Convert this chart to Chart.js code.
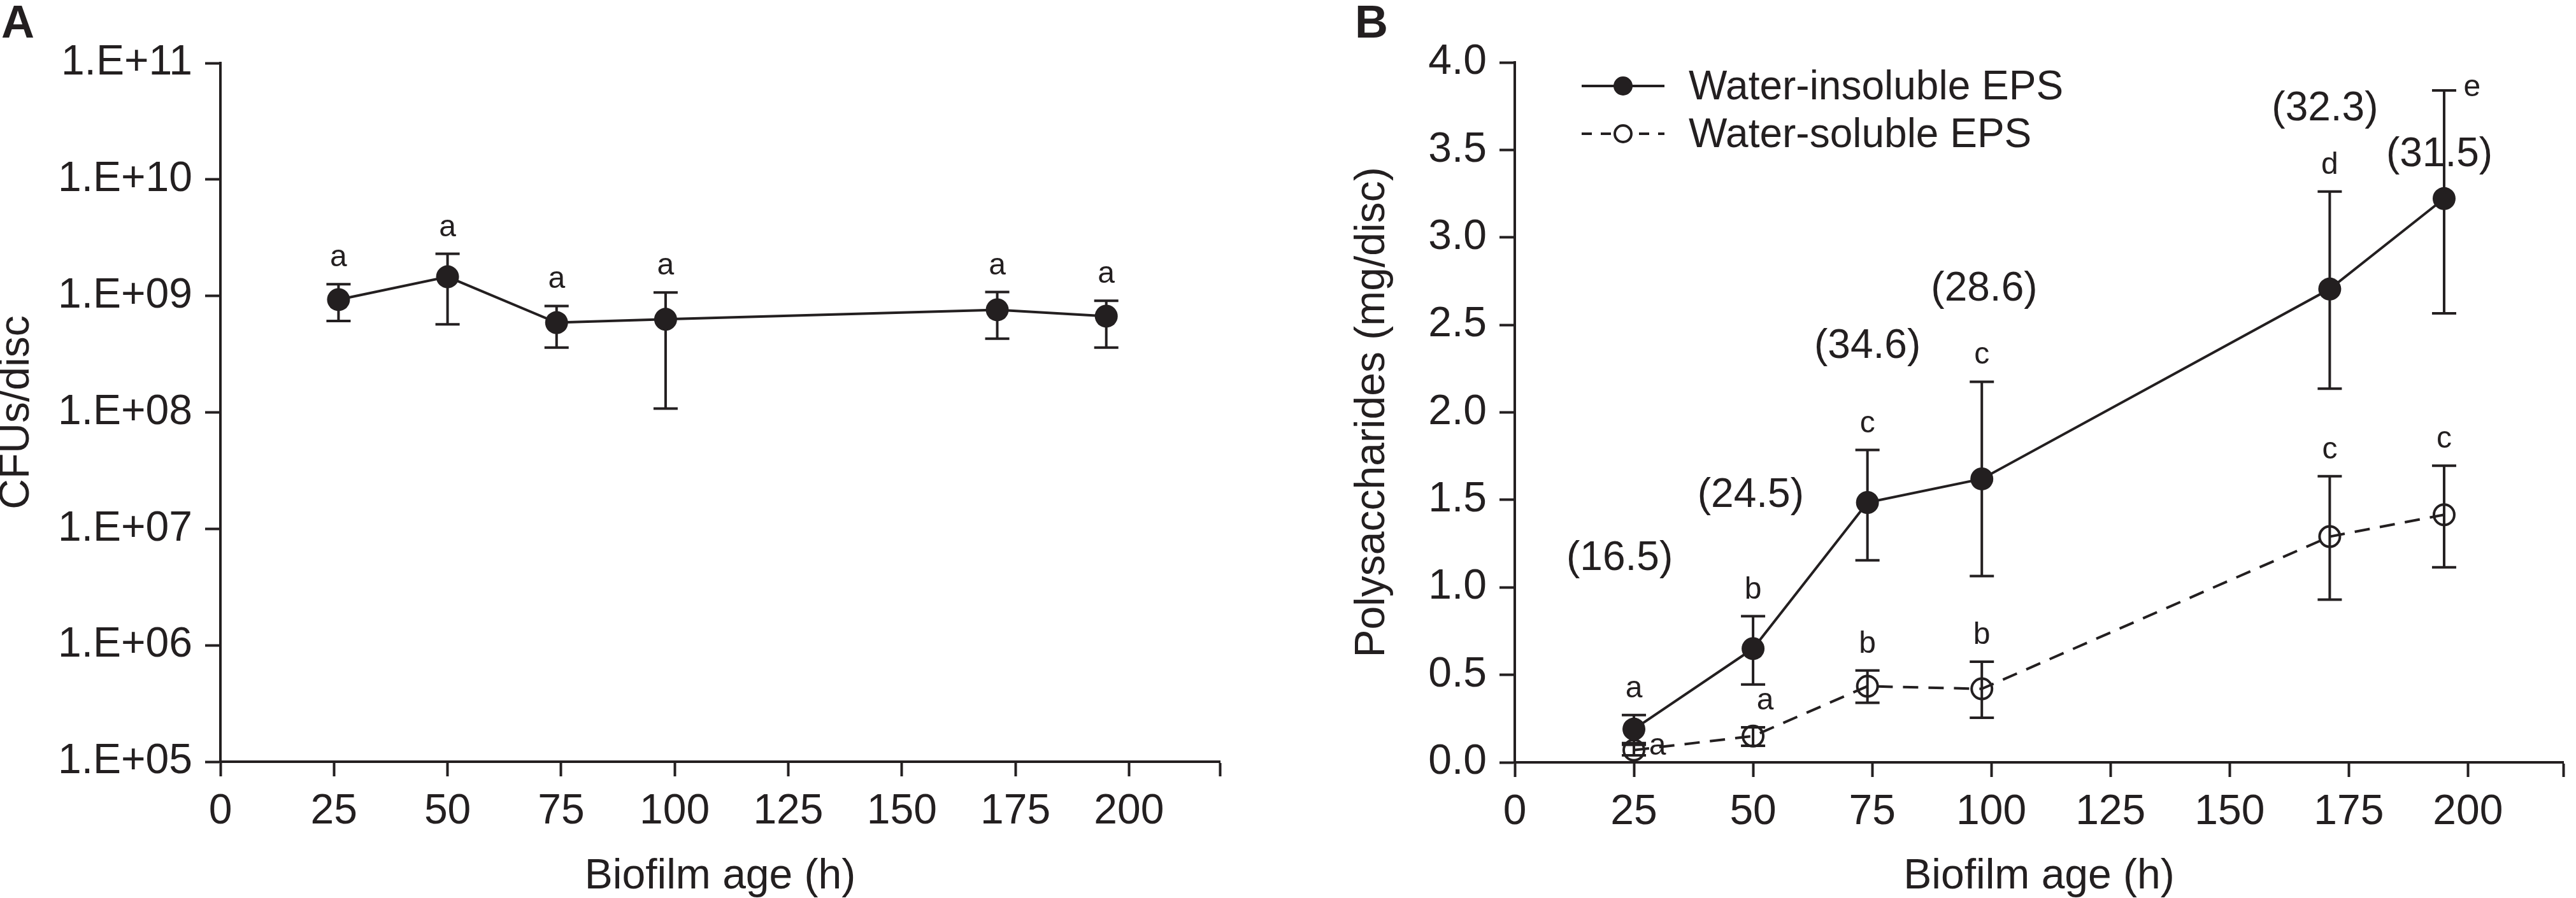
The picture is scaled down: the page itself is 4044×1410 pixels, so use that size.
<!DOCTYPE html>
<html>
<head>
<meta charset="utf-8">
<script src="https://cdn.jsdelivr.net/npm/chart.js@4.4.1/dist/chart.umd.min.js"></script>
<style>
  body { margin: 0; background: #fff; width: 4044px; height: 1410px; overflow: hidden; position: relative; }
  canvas { position: absolute; top: 0; }
  #graficoA { left: 0; }
  #graficoB { left: 2044px; }
</style>
</head>
<body>
<canvas id="graficoA" width="2000" height="1410"></canvas>
<canvas id="graficoB" width="2000" height="1410"></canvas>
<script>
// dados do painel A (CFUs por disco, escala log)
const horasA = [26, 50, 74, 98, 171, 195];
const ufc = [9.3e8, 1.46e9, 5.9e8, 6.3e8, 7.6e8, 6.7e8];
const ufcAlto = [1.26e9, 2.30e9, 8.2e8, 1.07e9, 1.08e9, 9.1e8];
const ufcBaixo = [6.1e8, 5.7e8, 3.6e8, 1.08e8, 4.3e8, 3.6e8];
const letrasA = ['a', 'a', 'a', 'a', 'a', 'a'];

// dados do painel B (polissacarideos)
const horasB = [25, 50, 74, 98, 171, 195];
const insoluvel = [0.19, 0.65, 1.485, 1.62, 2.705, 3.222];
const insoluvelAlto = [0.27, 0.835, 1.785, 2.175, 3.262, 3.84];
const insoluvelBaixo = [0.11, 0.445, 1.155, 1.065, 2.136, 2.566];
const soluvel = [0.07, 0.15, 0.435, 0.42, 1.29, 1.415];
const soluvelAlto = [0.10, 0.20, 0.525, 0.575, 1.635, 1.695];
const soluvelBaixo = [0.04, 0.095, 0.34, 0.255, 0.93, 1.115];
const letrasInsoluvel = ['a', 'b', 'c', 'c', 'd', 'e'];
const letrasSoluvel = ['a', 'a', 'b', 'b', 'c', 'c'];
const nomesSeries = ['Water-insoluble EPS', 'Water-soluble EPS'];

// percentuais entre parenteses e onde ficam (em unidades do grafico)
const rotulosPct = ['(16.5)', '(24.5)', '(34.6)', '(28.6)', '(32.3)', '(31.5)'];
const rotuloPctX = [22, 49.5, 74, 98.5, 170, 194];
const rotuloPctY = [1.165, 1.525, 2.377, 2.704, 3.734, 3.472];

// ticks
const ticksX = [0, 25, 50, 75, 100, 125, 150, 175, 200, 220];
const ticksLog = [1e5, 1e6, 1e7, 1e8, 1e9, 1e10, 1e11];
const ticksPoli = [0, 0.5, 1, 1.5, 2, 2.5, 3, 3.5, 4];

const tinta = '#231f20';
const fonte = '"Liberation Sans", Arial, Helvetica, sans-serif';

function pontos(xs, ys) {
  var lista = [];
  for (i = 0; i < xs.length; i++) {
    lista.push({ x: xs[i], y: ys[i] });
  }
  return lista;
}

// barras de erro desenhadas antes dos pontos
function pluginErros(series) {
  return {
    id: 'erros',
    beforeDatasetsDraw(chart) {
      const ctx = chart.ctx;
      const sx = chart.scales.x;
      const sy = chart.scales.y;
      ctx.save();
      ctx.strokeStyle = tinta;
      ctx.lineWidth = 4;
      series.forEach(s => {
        for (let i = 0; i < s.x.length; i++) {
          const px = sx.getPixelForValue(s.x[i]);
          const pa = sy.getPixelForValue(s.alto[i]);
          const pb = sy.getPixelForValue(s.baixo[i]);
          ctx.beginPath();
          ctx.moveTo(px, pa); ctx.lineTo(px, pb);
          ctx.moveTo(px - 19, pa); ctx.lineTo(px + 19, pa);
          ctx.moveTo(px - 19, pb); ctx.lineTo(px + 19, pb);
          ctx.stroke();
        }
      });
      ctx.restore();
    }
  };
}

// letras de significancia acima das barras (ajustes em px onde o original desloca)
function pluginLetras(series, painel, painelX) {
  return {
    id: 'letras',
    afterDatasetsDraw(chart) {
      const ctx = chart.ctx;
      const sx = chart.scales.x;
      const sy = chart.scales.y;
      ctx.save();
      ctx.fillStyle = tinta;
      ctx.textAlign = 'center';
      ctx.textBaseline = 'alphabetic';
      ctx.font = '48px ' + fonte;
      series.forEach(s => {
        for (let i = 0; i < s.x.length; i++) {
          const ajuste = (s.ajustes && s.ajustes[i]) || [0, 0];
          const px = sx.getPixelForValue(s.x[i]) + ajuste[0];
          const py = sy.getPixelForValue(s.alto[i]) - 28 + ajuste[1];
          ctx.fillText(s.letras[i], px, py);
        }
      });
      // letra do painel
      ctx.textAlign = 'left';
      ctx.font = 'bold 72px ' + fonte;
      ctx.fillText(painel, painelX, 59);
      ctx.restore();
    }
  };
}

const pluginPct = {
  id: 'percentuais',
  afterDatasetsDraw(chart) {
    const ctx = chart.ctx;
    ctx.save();
    ctx.fillStyle = tinta;
    ctx.textAlign = 'center';
    ctx.textBaseline = 'middle';
    ctx.font = '64px ' + fonte;
    for (let i = 0; i < rotulosPct.length; i++) {
      ctx.fillText(rotulosPct[i], chart.scales.x.getPixelForValue(rotuloPctX[i]),
        chart.scales.y.getPixelForValue(rotuloPctY[i]));
    }
    ctx.restore();
  }
};

const pluginLegenda = {
  id: 'legendaB',
  afterDraw(chart) {
    const ctx = chart.ctx;
    const x0 = chart.chartArea.left + 105;
    const x1 = x0 + 130;
    const xm = (x0 + x1) / 2;
    const y1 = chart.chartArea.top + 37;
    const y2 = chart.chartArea.top + 112;
    ctx.save();
    ctx.strokeStyle = tinta;
    ctx.fillStyle = tinta;
    ctx.lineWidth = 4;
    ctx.beginPath(); ctx.moveTo(x0, y1); ctx.lineTo(x1, y1); ctx.stroke();
    ctx.beginPath(); ctx.arc(xm, y1, 15, 0, Math.PI * 2); ctx.fill();
    ctx.setLineDash([16, 14]);
    ctx.beginPath(); ctx.moveTo(x0, y2); ctx.lineTo(x1, y2); ctx.stroke();
    ctx.setLineDash([]);
    ctx.fillStyle = '#fff';
    ctx.beginPath(); ctx.arc(xm, y2, 13, 0, Math.PI * 2); ctx.fill(); ctx.stroke();
    ctx.fillStyle = tinta;
    ctx.font = '64px ' + fonte;
    ctx.textAlign = 'left';
    ctx.textBaseline = 'middle';
    ctx.fillText(nomesSeries[0], x1 + 38, y1 + 3);
    ctx.fillText(nomesSeries[1], x1 + 38, y2 + 3);
    ctx.restore();
  }
};

function eixoX(altura) {
  return {
    type: 'linear', min: 0, max: 220,
    afterBuildTicks: s => { s.ticks = ticksX.map(v => ({ value: v })); },
    afterFit: s => { s.height = altura; },
    grid: { drawOnChartArea: false, drawTicks: true, tickLength: 23, tickWidth: 4, tickColor: tinta },
    border: { color: tinta, width: 4 },
    ticks: {
      color: tinta, font: { family: fonte, size: 66 }, padding: 16, maxRotation: 0, autoSkip: false,
      callback: v => (v === 220 ? '' : v)
    },
    title: { display: true, text: 'Biofilm age (h)', color: tinta, font: { family: fonte, size: 66, lineHeight: 1 }, padding: { top: 0, bottom: 0 } }
  };
}

const serieA = {
  label: 'CFUs', data: pontos(horasA, ufc),
  borderColor: tinta, borderWidth: 4, pointRadius: 18, pointBorderWidth: 0,
  pointBackgroundColor: tinta, pointBorderColor: tinta, tension: 0
};

const configA = {
  type: 'line',
  data: { datasets: [serieA] },
  options: {
    responsive: false, animation: false, devicePixelRatio: 1,
    layout: { padding: { top: 99, right: 85, left: 0, bottom: 0 } },
    plugins: { legend: { display: false }, tooltip: { enabled: false } },
    scales: {
      x: eixoX(214),
      y: {
        type: 'logarithmic', min: 1e5, max: 1e11,
        afterBuildTicks: s => { s.ticks = ticksLog.map(v => ({ value: v })); },
        afterFit: s => { s.width = 346; },
        grid: { drawOnChartArea: false, drawTicks: true, tickLength: 24, tickWidth: 4, tickColor: tinta },
        border: { color: tinta, width: 4 },
        ticks: {
          color: tinta, font: { family: fonte, size: 66 }, padding: 20, autoSkip: false,
          callback: v => '1.E+' + String(Math.round(Math.log10(v))).padStart(2, '0')
        },
        title: { display: true, text: 'CFUs/disc', color: tinta, font: { family: fonte, size: 66, lineHeight: 1 }, padding: { top: -6, bottom: 0 } }
      }
    }
  },
  plugins: [
    pluginErros([{ x: horasA, alto: ufcAlto, baixo: ufcBaixo }]),
    pluginLetras([{ x: horasA, alto: ufcAlto, letras: letrasA }], 'A', 2)
  ]
};

const configB = {
  type: 'line',
  data: {
    datasets: [{
      label: nomesSeries[0], data: pontos(horasB, insoluvel),
      borderColor: tinta, borderWidth: 4, pointRadius: 18, pointBorderWidth: 0,
      pointBackgroundColor: tinta, pointBorderColor: tinta, tension: 0
    }, {
      label: nomesSeries[1], data: pontos(horasB, soluvel),
      borderColor: tinta, borderWidth: 4, borderDash: [24, 16], pointRadius: 16, pointBorderWidth: 4,
      pointBackgroundColor: 'rgba(0,0,0,0)', pointBorderColor: tinta, tension: 0
    }]
  },
  options: {
    responsive: false, animation: false, devicePixelRatio: 1,
    layout: { padding: { top: 98, right: 5, left: 0, bottom: 0 } },
    plugins: { legend: { display: false }, tooltip: { enabled: false } },
    scales: {
      x: eixoX(213),
      y: {
        type: 'linear', min: 0, max: 4,
        afterBuildTicks: s => { s.ticks = ticksPoli.map(v => ({ value: v })); },
        afterFit: s => { s.width = 334; },
        grid: { drawOnChartArea: false, drawTicks: true, tickLength: 24, tickWidth: 4, tickColor: tinta },
        border: { color: tinta, width: 4 },
        ticks: { color: tinta, font: { family: fonte, size: 66 }, padding: 20, autoSkip: false, callback: v => v.toFixed(1) },
        title: { display: true, text: 'Polysaccharides (mg/disc)', color: tinta, font: { family: fonte, size: 66, lineHeight: 1 }, padding: { top: 78, bottom: 0 } }
      }
    }
  },
  plugins: [
    pluginErros([
      { x: horasB, alto: insoluvelAlto, baixo: insoluvelBaixo },
      { x: horasB, alto: soluvelAlto, baixo: soluvelBaixo }
    ]),
    pluginLetras([
      { x: horasB, alto: insoluvelAlto, letras: letrasInsoluvel, ajustes: { 5: [44, 37] } },
      { x: horasB, alto: soluvelAlto, letras: letrasSoluvel, ajustes: { 0: [37, 43], 1: [19, 0] } }
    ], 'B', 83),
    pluginPct,
    pluginLegenda
  ]
};

const graficoA = new Chart(document.getElementById('graficoA').getContext('2d'), configA);
const graficoB = new Chart(document.getElementById('graficoB').getContext('2d'), configB);
</script>
</body>
</html>
